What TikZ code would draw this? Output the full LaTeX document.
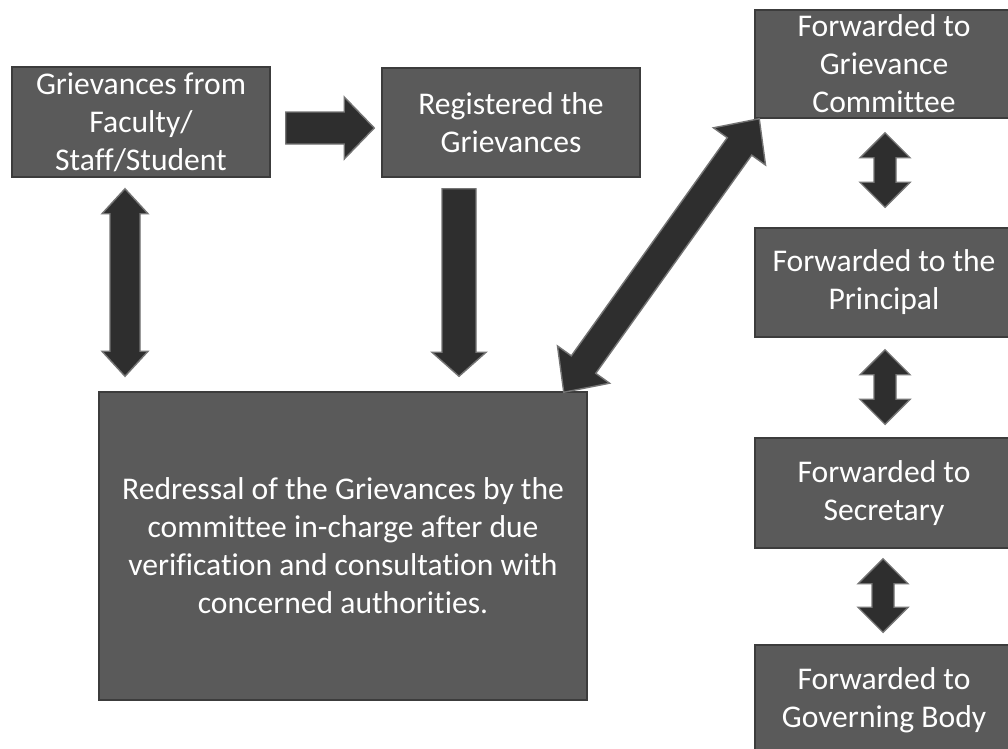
\documentclass[tikz,border=0pt]{standalone}
\usepackage{fontspec}
\setmainfont{Carlito}[Ligatures={NoCommon}]
\usetikzlibrary{calc}
\definecolor{boxfill}{HTML}{5A5A5A}
\definecolor{boxline}{HTML}{3C3C3C}
\definecolor{arrfill}{HTML}{2E2E2E}
\definecolor{arrline}{HTML}{747474}
\tikzset{
  gbox/.style={rectangle, fill=boxfill, draw=boxline, line width=1.5pt, inner sep=0pt,
    align=center, text=white, font=\fontsize{31.6}{38}\selectfont},
  barrow/.style={fill=arrfill, draw=arrline, line width=1.4pt, line join=miter}
}
% double block arrow: start, end, shaft half width, head half width, head length
\newcommand{\blkdouble}[5]{%
  \coordinate (hbA) at ($(#1)!#5!(#2)$);
  \coordinate (hbB) at ($(#2)!#5!(#1)$);
  \filldraw[barrow] (#1)
    -- ($(hbA)!#4!90:(#2)$) -- ($(hbA)!#3!90:(#2)$)
    -- ($(hbB)!#3!-90:(#1)$) -- ($(hbB)!#4!-90:(#1)$)
    -- (#2)
    -- ($(hbB)!#4!90:(#1)$) -- ($(hbB)!#3!90:(#1)$)
    -- ($(hbA)!#3!-90:(#2)$) -- ($(hbA)!#4!-90:(#2)$)
    -- cycle;}
% single block arrow
\newcommand{\blksingle}[5]{%
  \coordinate (hbB) at ($(#2)!#5!(#1)$);
  \filldraw[barrow] ($(#1)!#3!90:(#2)$)
    -- ($(hbB)!#3!-90:(#1)$) -- ($(hbB)!#4!-90:(#1)$)
    -- (#2)
    -- ($(hbB)!#4!90:(#1)$) -- ($(hbB)!#3!90:(#1)$)
    -- ($(#1)!#3!-90:(#2)$)
    -- cycle;}
\begin{document}
\begin{tikzpicture}[x=1pt,y=-1pt]
\useasboundingbox (0,0) rectangle (1008,748);
\clip (0,0) rectangle (1008,748);
\fill[white] (0,0) rectangle (1008,748);

\node[gbox, minimum width=258pt, minimum height=110pt] (A) at (141,122)
  {Grievances from\\Faculty/\\Staff/Student};
\node[gbox, minimum width=258pt, minimum height=109pt] (B) at (511,122.5)
  {Registered the\\Grievances};
\node[gbox, minimum width=258pt, minimum height=108pt] (C) at (884,64)
  {Forwarded to\\Grievance\\Committee};
\node[gbox, minimum width=258pt, minimum height=109pt] (D) at (884,282.5)
  {Forwarded to the\\Principal};
\node[gbox, minimum width=258pt, minimum height=110pt] (E) at (884,493)
  {Forwarded to\\Secretary};
\node[gbox, minimum width=258pt, minimum height=110pt] (F) at (884,700)
  {Forwarded to\\Governing Body};
\node[gbox, minimum width=488pt, minimum height=308pt] (G) at (343,546)
  {Redressal of the Grievances by the\\committee in-charge after due\\verification and consultation with\\concerned authorities.};

% connector end points
\coordinate (ab1) at ($(A.east)+(15,6)$);
\coordinate (ab2) at ($(B.west)+(-7,5.5)$);
\coordinate (ag1) at ($(A.south)+(-16,11)$);
\coordinate (ag2) at ($(G.north)+(-218,-15)$);
\coordinate (bg1) at ($(B.south)+(-52,11)$);
\coordinate (bg2) at ($(G.north)+(116,-15)$);
\coordinate (gc1) at ($(G.north east)+(-24,1)$);
\coordinate (gc2) at ($(C.south west)+(5,0)$);
\coordinate (cd1) at ($(C.south)+(1,14)$);
\coordinate (cd2) at ($(D.north)+(1,-20)$);
\coordinate (de1) at ($(D.south)+(1,12)$);
\coordinate (de2) at ($(E.north)+(1,-13)$);
\coordinate (ef1) at ($(E.south)+(-1,10)$);
\coordinate (ef2) at ($(F.north)+(-1,-12)$);

\blksingle{ab1}{ab2}{16pt}{31pt}{30pt}
\blkdouble{ag1}{ag2}{15pt}{23pt}{25pt}
\blksingle{bg1}{bg2}{17pt}{27pt}{24pt}
\blkdouble{gc1}{gc2}{15pt}{32pt}{34pt}
\blkdouble{cd1}{cd2}{11pt}{25pt}{25pt}
\blkdouble{de1}{de2}{11pt}{25pt}{25pt}
\blkdouble{ef1}{ef2}{11pt}{25pt}{25pt}
\end{tikzpicture}
\end{document}
